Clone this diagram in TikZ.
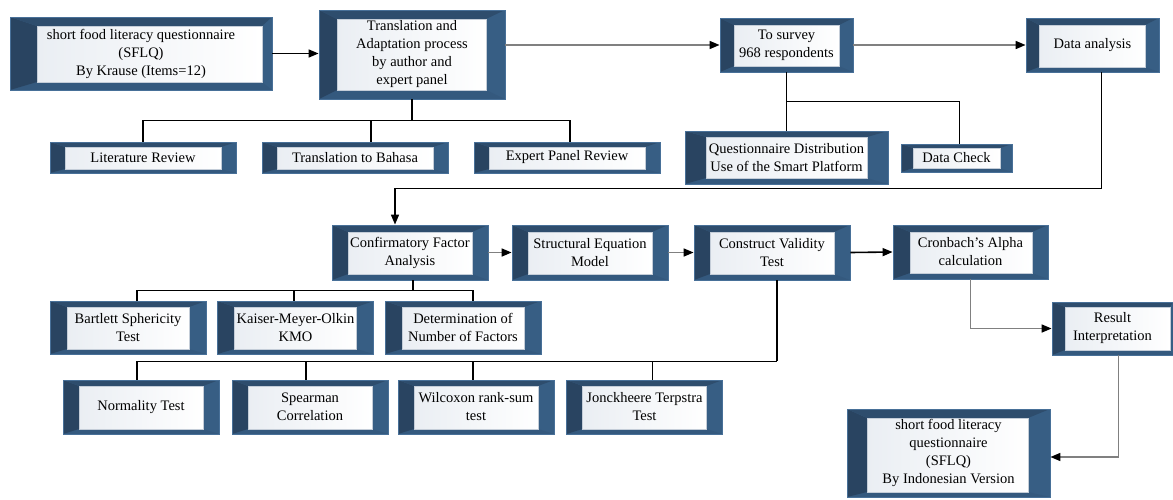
\documentclass[tikz,border=0pt]{standalone}
\usepackage{fontspec}
\setmainfont{Liberation Serif}
\usepackage{tikz}
\usetikzlibrary{arrows.meta,calc}
\definecolor{bevleft}{RGB}{41,68,97}
\definecolor{bevtop}{RGB}{46,77,109}
\definecolor{bevright}{RGB}{55,94,132}
\definecolor{bevbottom}{RGB}{52,89,126}
\definecolor{bevedge}{RGB}{72,112,152}
\definecolor{innershade}{RGB}{234,238,243}
\definecolor{inneredge}{RGB}{196,205,216}
\definecolor{greyline}{RGB}{128,128,128}
\newcommand{\boxfont}{\fontsize{14.5}{18}\selectfont}
\tikzset{
  bevbox/.style n args={4}{draw=bevedge, line width=0.8pt, inner sep=0pt,
    align=center, font=\boxfont,
    path picture={
      \coordinate (pnw) at (path picture bounding box.north west);
      \coordinate (pne) at (path picture bounding box.north east);
      \coordinate (pse) at (path picture bounding box.south east);
      \coordinate (psw) at (path picture bounding box.south west);
      \coordinate (qnw) at ($(pnw)+(#1,#3)$);
      \coordinate (qne) at ($(pne)+(-#2,#3)$);
      \coordinate (qse) at ($(pse)+(-#2,-#4)$);
      \coordinate (qsw) at ($(psw)+(#1,-#4)$);
      \fill[bevright] (pnw) rectangle (pse);
      \fill[bevbottom] (psw) -- (pse) -- (qse) -- (qsw) -- cycle;
      \fill[bevleft] (pnw) -- (psw) -- (qsw) -- (qnw) -- cycle;
      \fill[bevtop] (pnw) -- (pne) -- (qne) -- (qnw) -- cycle;
      \shade[left color=innershade, right color=white, draw=inneredge, line width=0.6pt]
        (qnw) rectangle (qse);
    }},
  conn/.style={line width=1.6pt},
  arrow/.style={conn, -{Triangle[length=10pt,width=8pt]}},
  greyarrow/.style={conn, draw=greyline, -{Triangle[length=10pt,width=8pt,color=black]}},
}

\begin{document}
\begin{tikzpicture}[x=1pt,y=-1pt]
  \useasboundingbox (0,0) rectangle (1173,499);

  % Adaptation and survey
  \node[bevbox={27}{10}{9}{8}, minimum width=262pt, minimum height=73pt] (sflq) at (141,53.5)
    {short food literacy questionnaire\\(SFLQ)\\By Krause (Items=12)};
  \node[bevbox={18}{19}{9}{9}, minimum width=186pt, minimum height=89pt] (trans) at (412,54.5)
    {Translation and\\Adaptation process\\by author and\\expert panel};
  \node[bevbox={14}{14}{7}{6}, minimum width=133pt, minimum height=54pt] (survey) at (786.5,45)
    {To survey\\968 respondents};
  \node[bevbox={13}{14}{7}{5}, minimum width=133pt, minimum height=54pt] (data) at (1092.5,45)
    {Data analysis};

  \node[bevbox={15}{15}{5}{4}, minimum width=186pt, minimum height=31pt] (lit) at (143,157.5)
    {Literature Review};
  \node[bevbox={15}{15}{5}{4}, minimum width=186pt, minimum height=31pt] (bahasa) at (355,157.5)
    {Translation to Bahasa};
  \node[bevbox={15}{15}{5}{4}, minimum width=186pt, minimum height=31pt] (expert) at (567,157.5)
    {Expert Panel Review};
  \node[bevbox={21}{21}{6}{6}, minimum width=203pt, minimum height=53pt] (qdist) at (786.5,157.5)
    {Questionnaire Distribution\\Use of the Smart Platform};
  \node[bevbox={12}{12}{4}{4}, minimum width=111pt, minimum height=28pt] (dcheck) at (956.5,158)
    {Data Check};

  \draw[arrow] (sflq.east) -- (sflq.east -| trans.west);
  \draw[greyarrow] (trans.east |- survey.west) -- (survey.west);
  \draw[greyarrow] (survey.east) -- (data.west);

  \draw[conn] (trans.south) -- ++(0,21) coordinate (tbus);
  \draw[conn] (lit.north) |- (tbus) -| ($(expert.north)+(3,0)$);
  \draw[conn] ($(bahasa.north)+(16,0)$) -- ++(0,-22);

  \draw[conn] (survey.south) -- (qdist.north);
  \draw[conn] ($(survey.south)!0.5!(qdist.north)$) -| ($(dcheck.north)+(3,0)$);

  % Analysis
  \node[bevbox={16}{16}{7}{6}, minimum width=156pt, minimum height=55pt] (cfa) at (410,252.5)
    {Confirmatory Factor\\Analysis};
  \node[bevbox={16}{16}{7}{6}, minimum width=156pt, minimum height=55pt] (sem) at (590,252.5)
    {Structural Equation\\Model};
  \node[bevbox={16}{16}{7}{6}, minimum width=156pt, minimum height=55pt] (cvt) at (772,252.5)
    {Construct Validity\\Test};
  \node[bevbox={17}{16}{7}{6}, minimum width=155pt, minimum height=54pt] (cronbach) at (970.5,252)
    {Cronbach's Alpha\\calculation};
  \node[bevbox={13}{3}{5}{5}, minimum width=121pt, minimum height=53pt] (result) at (1112.5,328.5)
    {Result\\Interpretation};
  \node[bevbox={20}{22}{9}{5}, minimum width=203pt, minimum height=88pt] (final) at (948.5,453)
    {short food literacy\\questionnaire\\(SFLQ)\\By Indonesian Version};

  \draw[arrow] ($(data.south)+(9,0)$) -- ++(0,116) -| ($(cfa.north)+(-15,0)$);
  \draw[greyarrow] (cfa.east) -- (sem.west);
  \draw[greyarrow] (sem.east) -- (cvt.west);
  \draw[arrow] (cvt.east) -- (cronbach.west);
  \draw[greyarrow] (cronbach.south) |- (result.west);
  \draw[greyarrow] ($(result.south)+(6,0)$) |- ($(final.east)+(0,4)$);

  % Tests
  \node[bevbox={17}{17}{6}{5}, minimum width=156pt, minimum height=53pt] (bartlett) at (128,327.5)
    {Bartlett Sphericity\\Test};
  \node[bevbox={17}{17}{6}{5}, minimum width=156pt, minimum height=53pt] (kmo) at (295.5,327.5)
    {Kaiser-Meyer-Olkin\\KMO};
  \node[bevbox={17}{17}{6}{5}, minimum width=156pt, minimum height=53pt] (detn) at (463,327.5)
    {Determination of\\Number of Factors};

  \node[bevbox={16}{16}{6}{5}, minimum width=156pt, minimum height=54pt] (normal) at (141,407)
    {Normality Test};
  \node[bevbox={16}{16}{6}{5}, minimum width=156pt, minimum height=54pt] (spear) at (310,407)
    {Spearman\\Correlation};
  \node[bevbox={16}{16}{6}{5}, minimum width=156pt, minimum height=54pt] (wilc) at (476,407)
    {Wilcoxon rank-sum\\test};
  \node[bevbox={16}{16}{6}{5}, minimum width=156pt, minimum height=54pt] (jonck) at (644.5,407)
    {Jonckheere Terpstra\\Test};

  \draw[conn] ($(cfa.south)+(3,0)$) -- ++(0,10) coordinate (cbus);
  \draw[conn] ($(bartlett.north)+(9,0)$) |- (cbus) -| ($(detn.north)+(10,0)$);
  \draw[conn] ($(kmo.north)+(-1.5,0)$) -- ++(0,-11);

  \draw[conn] ($(cvt.south)+(5,0)$) -- ++(0,81) coordinate (vbus);
  \draw[conn] ($(normal.north)+(-4,0)$) |- (vbus);
  \draw[conn] ($(spear.north)+(-4,0)$) -- ++(0,-19);
  \draw[conn] ($(wilc.north)+(-3,0)$) -- ++(0,-19);
  \draw[conn] ($(jonck.north)+(8,0)$) -- ++(0,-19);
\end{tikzpicture}
\end{document}
